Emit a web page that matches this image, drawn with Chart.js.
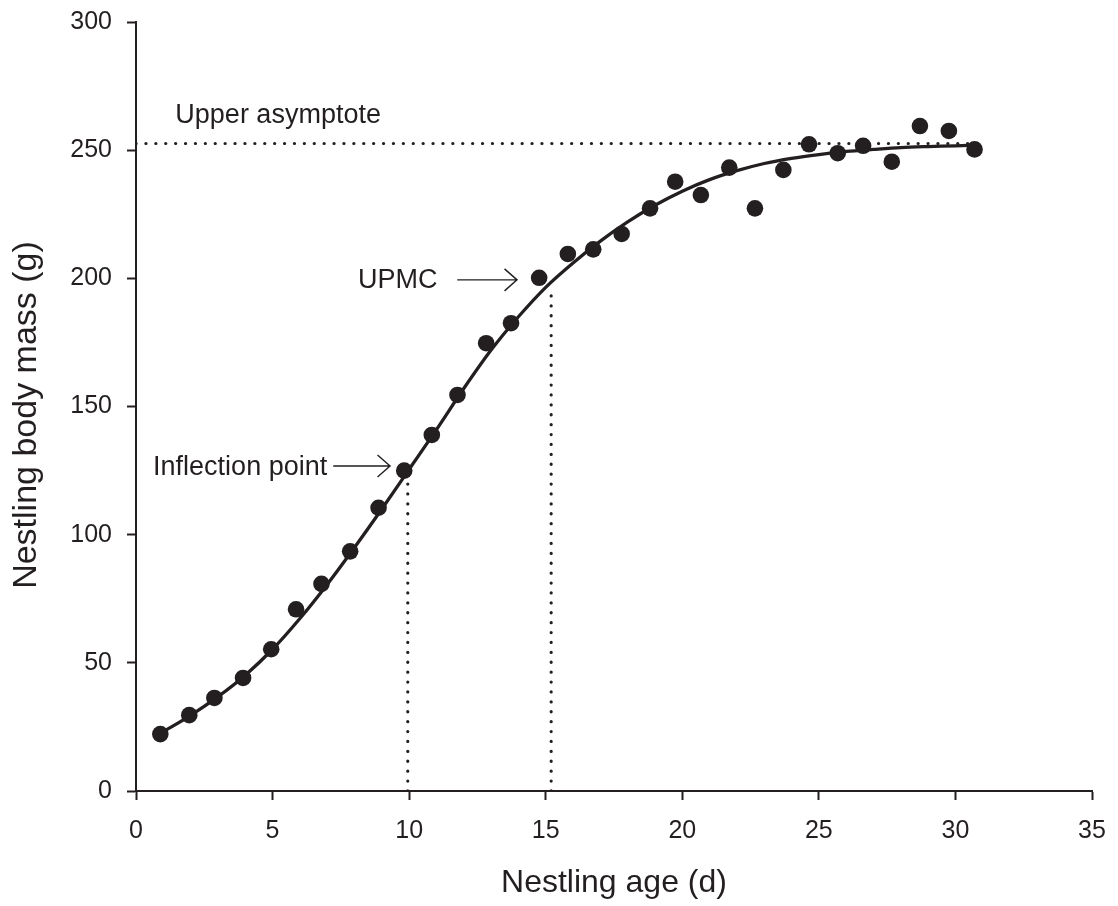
<!DOCTYPE html>
<html>
<head>
<meta charset="utf-8">
<script src="https://cdn.jsdelivr.net/npm/chart.js@4.4.1/dist/chart.umd.min.js"></script>
<style>
    html, body { margin: 0; padding: 0; background: #ffffff; }
    #wrap { width: 1118px; height: 906px; }
</style>
</head>
<body>
<div id="wrap"><canvas id="growthChart" width="1118" height="906"></canvas></div>
<script>
// Observed nestling masses (age in days, mass in g)
const ages = [0.89, 1.95, 2.87, 3.92, 4.95, 5.86, 6.79, 7.84, 8.88, 9.82, 10.83, 11.77, 12.82, 13.73, 14.76,
    15.81, 16.74, 17.78, 18.82, 19.74, 20.68, 21.72, 22.66, 23.70, 24.64, 25.69, 26.62, 27.67, 28.70, 29.76, 30.70];
const masses = [22.2, 29.6, 36.3, 44.1, 55.3, 70.9, 80.8, 93.5, 110.5, 125.0, 138.9, 154.5, 174.7, 182.5, 200.2,
    209.5, 211.3, 217.3, 227.3, 237.7, 232.5, 243.2, 227.3, 242.3, 252.3, 248.8, 251.7, 245.5, 259.4, 257.5, 250.3];

// Fitted growth curve
const curveAges = [0.9, 2, 3, 4, 5, 6, 7, 8, 9, 10, 11, 12, 13, 14, 15, 16, 17, 18, 19, 20,
    21, 22, 23, 24, 25, 26, 27, 28, 29, 30, 30.7];
const curveMasses = [22.5, 29.5, 36.8, 45.2, 55.3, 67.3, 80.6, 95, 110, 125.5, 141, 157, 172, 185, 196.5,
    206, 214.5, 222, 228.5, 234, 238.5, 242, 244.8, 246.8, 248.3, 249.5, 250.3, 251, 251.4, 251.7, 252];

// Reference lines
const asymptoteX = [0, 31];
const asymptoteY = [252.6, 252.6];
const inflectionX = [9.95, 9.95];
const inflectionY = [0, 121.3];
const upmcX = [15.2, 15.2];
const upmcY = [0, 194.4];

// Axis ticks
const xTicks = [0, 5, 10, 15, 20, 25, 30, 35];
const yTicks = [0, 50, 100, 150, 200, 250, 300];

const INK = '#231f20';
const FONT = '"Liberation Sans", Arial, Helvetica, sans-serif';
const Y_TITLE = 'Nestling body mass (g)';

// Text notes and arrows, anchored in data units
const notes = [
    { text: 'Upper asymptote', x: 1.44, y: 260.6, align: 'left' },
    { text: 'UPMC', x: 8.13, y: 196.2, align: 'left' },
    { text: 'Inflection point', x: 7.0, y: 123.3, align: 'right' }
];
const arrows = [
    { from: 11.76, to: 13.95, y: 199.4 },
    { from: 7.22, to: 9.3, y: 126.8 }
];

function toPoints(xs, ys) {
    return xs.map((v, i) => ({ x: v, y: ys[i] }));
}

function dottedLine(xs, ys) {
    return {
        data: toPoints(xs, ys),
        showLine: true,
        borderColor: INK,
        borderWidth: 3.2,
        borderDash: [0.1, 9.8],
        borderCapStyle: 'round',
        pointRadius: 0,
        fill: false
    };
}

// Fixed axis sizes, no extra label padding pushed onto the chart area
function fixScale(size) {
    return scale => {
        if (scale.isHorizontal()) scale.height = size;
        else scale.width = size;
        scale.paddingTop = 0;
        scale.paddingBottom = 0;
        scale.paddingLeft = 0;
        scale.paddingRight = 0;
    };
}

// Draw the notes, open-headed arrows and the y title
const annotationPlugin = {
    id: 'annotations',
    afterDatasetsDraw(chart) {
        const { ctx, scales: { x, y } } = chart;
        ctx.save();
        ctx.fillStyle = INK;
        ctx.strokeStyle = INK;
        ctx.font = '27px ' + FONT;
        ctx.textBaseline = 'alphabetic';
        notes.forEach(n => {
            ctx.textAlign = n.align;
            ctx.fillText(n.text, x.getPixelForValue(n.x), y.getPixelForValue(n.y));
        });

        ctx.lineWidth = 1.4;
        arrows.forEach(a => {
            const x0 = x.getPixelForValue(a.from);
            const x1 = x.getPixelForValue(a.to);
            const yy = y.getPixelForValue(a.y);
            ctx.beginPath();
            ctx.moveTo(x0, yy);
            ctx.lineTo(x1, yy);
            ctx.moveTo(x1 - 12.5, yy - 11);
            ctx.lineTo(x1, yy);
            ctx.lineTo(x1 - 12.5, yy + 11);
            ctx.stroke();
        });

        // y axis title, sits a little below the middle of the axis
        ctx.translate(27, 415);
        ctx.rotate(-Math.PI / 2);
        ctx.font = '34px ' + FONT;
        ctx.textAlign = 'center';
        ctx.textBaseline = 'middle';
        ctx.fillText(Y_TITLE, 0, 0);
        ctx.restore();
    }
};

const ctx = document.getElementById('growthChart').getContext('2d');

new Chart(ctx, {
    type: 'scatter',
    data: {
        datasets: [
            {
                data: toPoints(ages, masses),
                backgroundColor: INK,
                borderColor: INK,
                borderWidth: 0,
                pointRadius: 8.3,
                pointHoverRadius: 8.3
            },
            {
                data: toPoints(curveAges, curveMasses),
                showLine: true,
                borderColor: INK,
                borderWidth: 3.3,
                cubicInterpolationMode: 'monotone',
                pointRadius: 0,
                fill: false
            },
            dottedLine(asymptoteX, asymptoteY),
            dottedLine(inflectionX, inflectionY),
            dottedLine(upmcX, upmcY)
        ]
    },
    options: {
        responsive: false,
        animation: false,
        layout: {
            autoPadding: false,
            padding: { left: 0, right: 26, top: 22, bottom: 0 }
        },
        plugins: {
            legend: { display: false },
            tooltip: { enabled: false }
        },
        scales: {
            x: {
                type: 'linear',
                min: 0,
                max: 35,
                afterFit: fixScale(115),
                afterBuildTicks: scale => { scale.ticks = xTicks.map(v => ({ value: v })); },
                border: { display: true, color: INK, width: 2 },
                grid: {
                    drawOnChartArea: false,
                    drawTicks: true,
                    tickLength: 9,
                    tickWidth: 2,
                    tickColor: INK
                },
                ticks: {
                    color: INK,
                    padding: 16,
                    maxRotation: 0,
                    font: { family: FONT, size: 25 }
                },
                title: {
                    display: true,
                    text: 'Nestling age (d)',
                    color: INK,
                    padding: { top: 0, bottom: 4 },
                    font: { family: FONT, size: 32 }
                }
            },
            y: {
                type: 'linear',
                min: 0,
                max: 300,
                afterFit: fixScale(136),
                afterBuildTicks: scale => { scale.ticks = yTicks.map(v => ({ value: v })); },
                border: { display: true, color: INK, width: 2 },
                grid: {
                    drawOnChartArea: false,
                    drawTicks: true,
                    tickLength: 9,
                    tickWidth: 2,
                    tickColor: INK
                },
                ticks: {
                    color: INK,
                    padding: 15,
                    font: { family: FONT, size: 25 }
                }
            }
        }
    },
    plugins: [annotationPlugin]
});
</script>
</body>
</html>
